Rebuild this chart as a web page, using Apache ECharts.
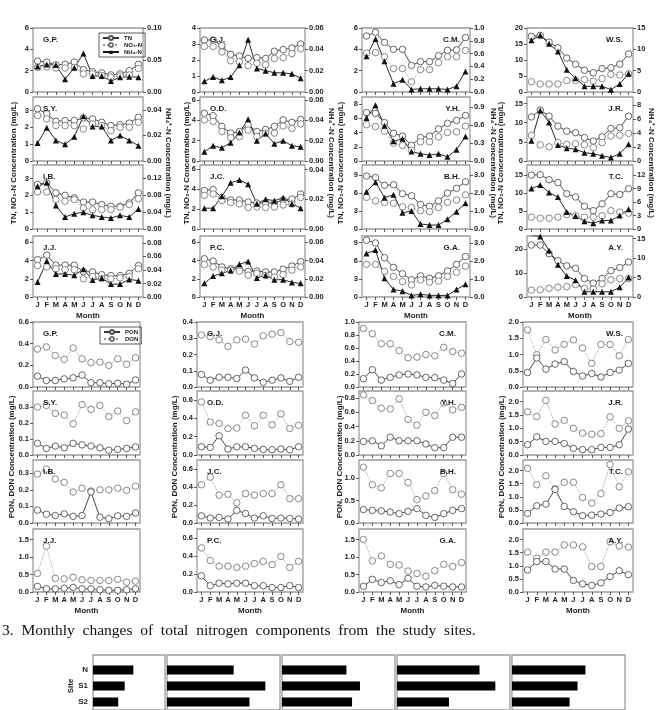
<!DOCTYPE html>
<html>
<head>
<meta charset="utf-8">
<script src="https://cdn.jsdelivr.net/npm/echarts@6/dist/echarts.min.js"></script>
<style>
html, body { margin: 0; padding: 0; background: #fff; }
#chart { width: 656px; height: 710px; }
</style>
</head>
<body>
<div id="chart"></div>
<script>
// month categories
const months = ['J', 'F', 'M', 'A', 'M', 'J', 'J', 'A', 'S', 'O', 'N', 'D'];

// ---- TN, NO3-N (mg/L, left axis) and NH4-N (mg/L, right axis) ----
const gpTN  = [2.9, 2.8, 2.55, 2.6, 2.8, 2.1, 1.9, 1.8, 1.6, 1.7, 2.0, 2.6];
const gpNO3 = [2.3, 2.35, 2.25, 2.25, 2.3, 1.7, 1.7, 1.55, 1.4, 1.5, 1.6, 2.2];
const gpNH4 = [0.040, 0.043, 0.042, 0.020, 0.038, 0.060, 0.025, 0.025, 0.017, 0.023, 0.024, 0.023];
const syTN  = [3.1, 2.8, 2.35, 2.4, 2.4, 2.55, 2.5, 2.3, 2.1, 2.15, 2.25, 2.6];
const syNO3 = [2.7, 2.5, 2.1, 2.1, 2.1, 1.9, 2.2, 2.1, 1.8, 2.0, 2.0, 2.3];
const syNH4 = [0.014, 0.026, 0.016, 0.013, 0.019, 0.035, 0.027, 0.027, 0.016, 0.020, 0.016, 0.012];
const ibTN  = [2.65, 2.75, 2.15, 2.0, 1.85, 1.6, 1.6, 1.45, 1.35, 1.35, 1.55, 2.15];
const ibNO3 = [2.2, 2.2, 1.75, 1.65, 1.75, 1.25, 1.15, 1.15, 1.15, 1.3, 1.45, 1.8];
const ibNH4 = [0.100, 0.109, 0.055, 0.028, 0.036, 0.039, 0.032, 0.028, 0.026, 0.032, 0.028, 0.047];
const jjTN  = [4.1, 4.6, 3.5, 3.5, 3.5, 2.8, 2.75, 2.45, 2.35, 2.35, 2.6, 3.45];
const jjNO3 = [3.45, 3.3, 3.1, 3.0, 3.0, 2.0, 2.25, 2.0, 2.0, 2.1, 2.25, 3.1];
const jjNH4 = [0.022, 0.053, 0.034, 0.034, 0.032, 0.041, 0.025, 0.028, 0.019, 0.019, 0.026, 0.024];
const gjTN  = [3.25, 3.25, 2.9, 2.35, 2.25, 2.1, 2.15, 2.1, 2.55, 2.65, 2.75, 3.0];
const gjNO3 = [2.85, 2.85, 2.5, 1.95, 1.9, 1.65, 1.8, 1.7, 2.1, 2.15, 2.4, 2.7];
const gjNH4 = [0.010, 0.014, 0.011, 0.014, 0.025, 0.049, 0.022, 0.020, 0.018, 0.018, 0.017, 0.013];
const odTN  = [4.7, 4.45, 3.4, 2.75, 2.9, 3.55, 2.9, 3.1, 3.4, 4.05, 3.8, 4.1];
const odNO3 = [4.05, 3.9, 2.9, 2.3, 2.4, 3.05, 2.4, 2.75, 2.75, 3.45, 3.2, 3.65];
const odNH4 = [0.009, 0.015, 0.013, 0.018, 0.028, 0.041, 0.020, 0.027, 0.017, 0.020, 0.015, 0.014];
const jcTN  = [3.85, 3.95, 3.15, 2.9, 2.9, 2.7, 2.6, 2.6, 2.6, 2.9, 3.0, 3.5];
const jcNO3 = [3.35, 3.5, 2.85, 2.65, 2.5, 2.15, 2.2, 2.15, 2.2, 2.4, 2.5, 3.15];
const jcNH4 = [0.014, 0.014, 0.022, 0.031, 0.033, 0.030, 0.017, 0.020, 0.019, 0.021, 0.017, 0.014];
const pcTN  = [4.2, 3.95, 3.3, 3.1, 3.1, 2.8, 2.85, 2.75, 2.75, 3.05, 3.4, 3.9];
const pcNO3 = [3.55, 3.3, 2.95, 2.95, 2.85, 2.4, 2.6, 2.35, 2.2, 2.45, 2.95, 3.3];
const pcNH4 = [0.015, 0.023, 0.026, 0.029, 0.036, 0.039, 0.021, 0.024, 0.019, 0.019, 0.016, 0.015];
const cmTN  = [5.25, 5.6, 4.65, 4.0, 4.0, 2.5, 2.85, 2.85, 3.4, 3.9, 3.95, 5.1];
const cmNO3 = [3.65, 3.7, 3.3, 2.2, 2.2, 0.95, 2.1, 2.1, 2.75, 3.3, 3.3, 3.9];
const cmNH4 = [0.56, 0.83, 0.48, 0.13, 0.19, 0.04, 0.05, 0.05, 0.05, 0.04, 0.09, 0.32];
const yhTN  = [6.8, 6.7, 5.4, 3.9, 3.5, 2.2, 3.3, 3.5, 4.5, 5.3, 5.7, 6.4];
const yhNO3 = [5.1, 4.85, 4.2, 2.5, 2.2, 1.5, 2.7, 2.7, 3.4, 4.0, 4.1, 4.9];
const yhNH4 = [0.72, 0.93, 0.59, 0.33, 0.37, 0.16, 0.12, 0.10, 0.12, 0.07, 0.19, 0.41];
const bhTN  = [8.85, 8.6, 7.3, 7.4, 5.9, 5.55, 4.1, 3.8, 4.7, 6.0, 6.8, 7.9];
const bhNO3 = [5.3, 4.7, 4.45, 4.3, 3.7, 3.6, 3.05, 2.9, 3.6, 4.45, 4.85, 5.7];
const bhNH4 = [2.07, 2.6, 1.74, 1.9, 0.9, 1.0, 0.28, 0.22, 0.22, 0.54, 0.96, 1.43];
const gaTN  = [9.4, 8.95, 6.5, 4.9, 3.85, 2.85, 3.5, 3.1, 3.5, 4.3, 5.4, 6.7];
const gaNO3 = [5.4, 5.4, 4.25, 3.4, 2.55, 2.0, 2.85, 2.45, 2.65, 3.4, 4.1, 5.1];
const gaNH4 = [2.41, 2.6, 1.04, 0.42, 0.32, 0.09, 0.15, 0.09, 0.09, 0.09, 0.42, 0.7];
const wsTN  = [17.4, 17.7, 15.6, 13.8, 10.6, 8.7, 6.8, 6.0, 7.3, 7.6, 8.7, 11.9];
const wsNO3 = [3.2, 2.5, 2.5, 2.5, 3.6, 3.6, 3.9, 3.4, 4.2, 5.5, 5.3, 5.7];
const wsNH4 = [12.1, 13.3, 11.3, 9.5, 5.2, 3.2, 1.35, 1.35, 1.35, 0.55, 1.9, 4.3];
const jrTN  = [11.5, 13.3, 11.7, 9.1, 7.8, 7.4, 6.1, 5.2, 6.3, 8.5, 8.7, 11.7];
const jrNO3 = [6.7, 4.2, 3.7, 4.8, 4.35, 4.5, 4.2, 3.5, 4.8, 6.5, 6.7, 7.2];
const jrNH4 = [2.9, 7.25, 5.55, 2.3, 1.85, 1.7, 1.2, 1.05, 0.75, 0.5, 1.05, 2.4];
const tcTN  = [15.0, 15.1, 13.7, 12.9, 9.8, 8.9, 6.3, 5.1, 7.0, 9.8, 9.6, 11.2];
const tcNO3 = [3.3, 3.0, 3.0, 3.3, 4.0, 3.7, 3.3, 3.3, 3.7, 5.1, 4.7, 4.4];
const tcNH4 = [9.0, 9.8, 8.1, 7.1, 3.8, 2.9, 1.7, 1.3, 1.9, 1.9, 3.0, 4.4];
const ayTN  = [21.7, 21.7, 18.1, 15.2, 13.0, 12.0, 7.7, 5.8, 7.7, 11.0, 12.3, 14.6];
const ayNO3 = [2.9, 3.0, 3.6, 4.1, 4.3, 5.2, 3.6, 3.3, 5.5, 7.2, 7.7, 7.7];
const ayNH4 = [15.9, 15.6, 11.9, 8.3, 5.4, 4.3, 1.35, 1.35, 1.35, 1.35, 2.5, 5.0];

// ---- PON, DON (mg/L) ----
const gpPON = [0.10, 0.06, 0.06, 0.075, 0.085, 0.11, 0.04, 0.04, 0.03, 0.035, 0.025, 0.065];
const gpDON = [0.35, 0.37, 0.29, 0.255, 0.36, 0.26, 0.225, 0.23, 0.20, 0.26, 0.21, 0.27];
const syPON = [0.073, 0.041, 0.056, 0.045, 0.073, 0.063, 0.056, 0.045, 0.030, 0.035, 0.041, 0.05];
const syDON = [0.30, 0.31, 0.26, 0.25, 0.195, 0.315, 0.285, 0.31, 0.24, 0.275, 0.215, 0.27];
const ibPON = [0.078, 0.053, 0.045, 0.055, 0.04, 0.045, 0.187, 0.035, 0.026, 0.043, 0.04, 0.06];
const ibDON = [0.295, 0.325, 0.265, 0.245, 0.187, 0.21, 0.193, 0.20, 0.20, 0.21, 0.197, 0.222];
const jjPON = [0.16, 0.09, 0.09, 0.11, 0.13, 0.09, 0.09, 0.065, 0.05, 0.05, 0.065, 0.09];
const jjDON = [0.53, 1.31, 0.39, 0.375, 0.42, 0.35, 0.33, 0.33, 0.33, 0.36, 0.28, 0.31];
const gjPON = [0.077, 0.042, 0.06, 0.06, 0.052, 0.104, 0.056, 0.029, 0.042, 0.056, 0.035, 0.06];
const gjDON = [0.32, 0.31, 0.29, 0.25, 0.29, 0.295, 0.265, 0.315, 0.325, 0.335, 0.28, 0.275];
const odPON = [0.09, 0.083, 0.21, 0.065, 0.09, 0.09, 0.072, 0.061, 0.058, 0.065, 0.058, 0.09];
const odDON = [0.58, 0.36, 0.345, 0.29, 0.295, 0.435, 0.32, 0.435, 0.33, 0.45, 0.29, 0.325];
const jcPON = [0.08, 0.055, 0.062, 0.044, 0.14, 0.105, 0.055, 0.08, 0.051, 0.055, 0.051, 0.044];
const jcDON = [0.425, 0.51, 0.31, 0.32, 0.225, 0.327, 0.31, 0.327, 0.327, 0.425, 0.27, 0.27];
const pcPON = [0.18, 0.07, 0.098, 0.09, 0.098, 0.098, 0.07, 0.07, 0.05, 0.05, 0.07, 0.05];
const pcDON = [0.49, 0.35, 0.287, 0.287, 0.273, 0.287, 0.316, 0.34, 0.305, 0.396, 0.273, 0.34];
const cmPON = [0.128, 0.265, 0.106, 0.149, 0.186, 0.20, 0.186, 0.149, 0.144, 0.106, 0.053, 0.20];
const cmDON = [0.9, 0.82, 0.665, 0.665, 0.56, 0.45, 0.46, 0.50, 0.48, 0.61, 0.545, 0.52];
const yhPON = [0.19, 0.2, 0.13, 0.25, 0.2, 0.2, 0.2, 0.155, 0.103, 0.103, 0.25, 0.25];
const yhDON = [0.845, 0.765, 0.657, 0.648, 0.79, 0.5, 0.42, 0.6, 0.555, 0.73, 0.634, 0.67];
const bhPON = [0.3, 0.28, 0.27, 0.245, 0.207, 0.26, 0.32, 0.17, 0.126, 0.207, 0.28, 0.32];
const bhDON = [1.24, 0.85, 0.78, 1.1, 1.1, 0.9, 0.52, 0.6, 0.72, 1.1, 0.74, 0.64];
const gaPON = [0.165, 0.36, 0.27, 0.32, 0.21, 0.39, 0.165, 0.145, 0.19, 0.165, 0.145, 0.145];
const gaDON = [1.5, 0.89, 1.03, 0.79, 0.77, 0.6, 0.53, 0.45, 0.61, 0.79, 0.73, 0.84];
const wsPON = [0.445, 0.89, 0.55, 0.705, 0.78, 0.477, 0.34, 0.415, 0.31, 0.445, 0.52, 0.725];
const wsDON = [1.76, 0.99, 1.46, 1.14, 1.31, 1.45, 1.2, 0.725, 1.31, 1.31, 0.96, 1.46];
const jrPON = [0.385, 0.68, 0.51, 0.51, 0.43, 0.25, 0.2, 0.2, 0.285, 0.285, 0.385, 0.97];
const jrDON = [1.62, 1.44, 2.05, 1.16, 1.3, 1.0, 0.82, 0.78, 0.8, 1.43, 1.0, 1.28];
const tcPON = [0.365, 0.655, 0.72, 1.28, 0.63, 0.43, 0.28, 0.3, 0.34, 0.4, 0.57, 0.62];
const tcDON = [2.08, 1.46, 1.8, 1.3, 1.55, 1.55, 0.97, 0.76, 1.12, 2.23, 1.38, 1.95];
const ayPON = [0.84, 1.16, 1.16, 0.875, 0.875, 0.44, 0.31, 0.25, 0.35, 0.59, 0.81, 0.66];
const ayDON = [1.52, 1.29, 1.52, 1.52, 1.79, 1.79, 1.72, 0.97, 0.97, 1.91, 1.75, 1.71];

// ---- next figure (cut at the bottom of the page) ----
const stripSites = ['N', 'S1', 'S2'];
const strip1 = [56, 44, 35];
const strip2 = [59, 87, 73];
const strip3 = [57, 69, 62];
const strip4 = [73, 87, 46];
const strip5 = [65, 58, 51];

// panels: site, data, axis range (max / step / decimals)
const topPanels = [
  { site: 'G.P.', tn: gpTN, no3: gpNO3, nh4: gpNH4, lMax: 6, lStep: 2, rMax: 0.10, rStep: 0.05, rDec: 2 },
  { site: 'S.Y.', tn: syTN, no3: syNO3, nh4: syNH4, lMax: 3.8, lStep: 1, rMax: 0.05, rStep: 0.02, rDec: 2 },
  { site: 'I.B.', tn: ibTN, no3: ibNO3, nh4: ibNH4, lMax: 3.8, lStep: 1, rMax: 0.15, rStep: 0.04, rDec: 2 },
  { site: 'J.J.', tn: jjTN, no3: jjNO3, nh4: jjNH4, lMax: 6.7, lStep: 2, rMax: 0.09, rStep: 0.02, rDec: 2 },
  { site: 'G.J.', tn: gjTN, no3: gjNO3, nh4: gjNH4, lMax: 4, lStep: 1, rMax: 0.06, rStep: 0.02, rDec: 2 },
  { site: 'O.D.', tn: odTN, no3: odNO3, nh4: odNH4, lMax: 6.3, lStep: 2, rMax: 0.063, rStep: 0.02, rDec: 2 },
  { site: 'J.C.', tn: jcTN, no3: jcNO3, nh4: jcNH4, lMax: 6.4, lStep: 2, rMax: 0.043, rStep: 0.02, rDec: 2 },
  { site: 'P.C.', tn: pcTN, no3: pcNO3, nh4: pcNH4, lMax: 6.7, lStep: 2, rMax: 0.067, rStep: 0.02, rDec: 2 },
  { site: 'C.M.', tn: cmTN, no3: cmNO3, nh4: cmNH4, lMax: 6, lStep: 2, rMax: 1.0, rStep: 0.2, rDec: 1 },
  { site: 'Y.H.', tn: yhTN, no3: yhNO3, nh4: yhNH4, lMax: 9, lStep: 2, rMax: 1.07, rStep: 0.3, rDec: 1 },
  { site: 'B.H.', tn: bhTN, no3: bhNO3, nh4: bhNH4, lMax: 10.7, lStep: 3, rMax: 3.55, rStep: 1, rDec: 1 },
  { site: 'G.A.', tn: gaTN, no3: gaNO3, nh4: gaNH4, lMax: 10.1, lStep: 3, rMax: 3.38, rStep: 1, rDec: 1 },
  { site: 'W.S.', tn: wsTN, no3: wsNO3, nh4: wsNH4, lMax: 20, lStep: 5, rMax: 15, rStep: 5, rDec: 0 },
  { site: 'J.R.', tn: jrTN, no3: jrNO3, nh4: jrNH4, lMax: 16.7, lStep: 5, rMax: 9.2, rStep: 2, rDec: 0 },
  { site: 'T.C.', tn: tcTN, no3: tcNO3, nh4: tcNH4, lMax: 17.8, lStep: 5, rMax: 14.25, rStep: 3, rDec: 0 },
  { site: 'A.Y.', tn: ayTN, no3: ayNO3, nh4: ayNH4, lMax: 25.5, lStep: 10, rMax: 15.7, rStep: 5, rDec: 0 }
];
const botPanels = [
  { site: 'G.P.', pon: gpPON, don: gpDON, max: 0.6, step: 0.2 },
  { site: 'S.Y.', pon: syPON, don: syDON, max: 0.4, step: 0.1, hideTop: true },
  { site: 'I.B.', pon: ibPON, don: ibDON, max: 0.38, step: 0.1 },
  { site: 'J.J.', pon: jjPON, don: jjDON, max: 1.8, step: 0.5 },
  { site: 'G.J.', pon: gjPON, don: gjDON, max: 0.4, step: 0.1 },
  { site: 'O.D.', pon: odPON, don: odDON, max: 0.7, step: 0.2 },
  { site: 'J.C.', pon: jcPON, don: jcDON, max: 0.7, step: 0.2 },
  { site: 'P.C.', pon: pcPON, don: pcDON, max: 0.7, step: 0.2 },
  { site: 'C.M.', pon: cmPON, don: cmDON, max: 1.0, step: 0.2 },
  { site: 'Y.H.', pon: yhPON, don: yhDON, max: 0.9, step: 0.2 },
  { site: 'B.H.', pon: bhPON, don: bhDON, max: 1.4, step: 0.5 },
  { site: 'G.A.', pon: gaPON, don: gaDON, max: 1.8, step: 0.5 },
  { site: 'W.S.', pon: wsPON, don: wsDON, max: 2.0, step: 0.5 },
  { site: 'J.R.', pon: jrPON, don: jrDON, max: 2.4, step: 0.5 },
  { site: 'T.C.', pon: tcPON, don: tcDON, max: 2.4, step: 0.5 },
  { site: 'A.Y.', pon: ayPON, don: ayDON, max: 2.4, step: 0.5 }
];
const stripPanels = [strip1, strip2, strip3, strip4, strip5];

// layout (pixels)
const topCols = [[33, 143], [200, 305], [362, 470], [527, 633]];
const topRows = [[28, 92], [97, 161], [165, 229], [236, 297]];
const botCols = [[33, 140], [197, 303], [359, 466], [523, 633]];
const botRows = [[322, 387], [391, 455], [460, 523], [529, 592]];
const stripCols = [[93, 165], [167, 280], [282, 395], [397, 510], [512, 625]];

const FONT = 'Liberation Sans';
const INK = '#1e1e1e';

const grids = [], xAxes = [], yAxes = [], series = [], titles = [], graphics = [];

function ticksOf(max, step) {
  const t = [];
  for (let v = 0; v <= max + 1e-9; v += step) t.push(+v.toFixed(4));
  return t;
}

function addGrid(x0, x1, y0, y1, show) {
  grids.push({
    left: x0, top: y0, width: x1 - x0, height: y1 - y0,
    show: show, borderColor: '#9c9c9c', borderWidth: 1.3
  });
  return grids.length - 1;
}

function valueAxis(gi, max, step, dec, pos, ticks) {
  const t = ticks || ticksOf(max, step);
  return {
    gridIndex: gi, type: 'value', position: pos, min: 0, max: max,
    axisLine: { show: false }, splitLine: { show: false },
    axisTick: { show: true, length: 3, customValues: t, lineStyle: { color: '#333', width: 0.8 } },
    axisLabel: {
      customValues: t, formatter: v => v.toFixed(dec),
      fontSize: 7.5, fontWeight: 'bold', color: INK, fontFamily: FONT, margin: 4
    }
  };
}

function monthAxis(gi, last) {
  return {
    gridIndex: gi, type: 'category', data: months, boundaryGap: true,
    axisLine: { show: false }, splitLine: { show: false },
    axisTick: { show: true, alignWithLabel: true, interval: 0, length: 3, lineStyle: { color: '#333', width: 0.8 } },
    axisLabel: { show: last, interval: 0, fontSize: 7.5, fontWeight: 'bold', color: INK, fontFamily: FONT, margin: 4 },
    name: last ? 'Month' : '', nameLocation: 'middle', nameGap: 15,
    nameTextStyle: { fontSize: 8, fontWeight: 'bold', color: INK, fontFamily: FONT }
  };
}

function lineSeries(name, gi, yi, data, kind) {
  const s = {
    type: 'line', name: name, xAxisIndex: gi, yAxisIndex: yi, data: data,
    symbol: 'circle', symbolSize: 6.5, showSymbol: true, showAllSymbol: true,
    lineStyle: { color: '#333', width: 0.9 },
    itemStyle: { color: '#fff', borderColor: '#555', borderWidth: 0.9 }
  };
  if (kind === 'dot') {
    s.lineStyle = { color: '#9a9a9a', width: 0.9, type: 'dotted' };
    s.itemStyle = { color: '#fff', borderColor: '#7a7a7a', borderWidth: 0.9 };
  }
  if (kind === 'tri') {
    s.symbol = 'triangle';
    s.symbolSize = 6;
    s.lineStyle = { color: '#111', width: 0.9 };
    s.itemStyle = { color: '#111' };
    s.z = 3;
  }
  return s;
}

function siteLabel(text, col, y0, x0, x1) {
  const t = { text: text, top: y0 + 3, textStyle: { fontSize: 8, fontWeight: 'bold', color: INK, fontFamily: FONT } };
  if (col < 2) t.left = x0 + 5; else t.right = 656 - x1 + 5;
  titles.push(t);
}

// upper block
topPanels.forEach((p, k) => {
  const col = Math.floor(k / 4), row = k % 4;
  const [x0, x1] = topCols[col], [y0, y1] = topRows[row];
  const gi = addGrid(x0, x1, y0, y1, true);
  xAxes.push(monthAxis(gi, row === 3));
  const yl = yAxes.length;
  yAxes.push(valueAxis(gi, p.lMax, p.lStep, 0, 'left'));
  yAxes.push(valueAxis(gi, p.rMax, p.rStep, p.rDec, 'right'));
  series.push(lineSeries('TN', gi, yl, p.tn, 'solid'));
  series.push(lineSeries('NO\u2083-N', gi, yl, p.no3, 'dot'));
  series.push(lineSeries('NH\u2084-N', gi, yl + 1, p.nh4, 'tri'));
  siteLabel(p.site, col, y0, x0, x1);
});

// lower block
botPanels.forEach((p, k) => {
  const col = Math.floor(k / 4), row = k % 4;
  const [x0, x1] = botCols[col], [y0, y1] = botRows[row];
  const gi = addGrid(x0, x1, y0, y1, true);
  xAxes.push(monthAxis(gi, row === 3));
  const yi = yAxes.length;
  let ticks = ticksOf(p.max, p.step);
  if (p.hideTop) ticks = ticks.slice(0, -1);
  yAxes.push(valueAxis(gi, p.max, p.step, 1, 'left', ticks));
  series.push(lineSeries('DON', gi, yi, p.don, 'dot'));
  series.push(lineSeries('PON', gi, yi, p.pon, 'solid'));
  siteLabel(p.site, col, y0, x0, x1);
});

// strip of the following figure
stripPanels.forEach((vals, k) => {
  const [x0, x1] = stripCols[k];
  const fi = addGrid(x0, x1, 655, 730, true);
  xAxes.push({ gridIndex: fi, type: 'value', show: false, min: 0, max: 1 });
  yAxes.push({ gridIndex: fi, type: 'value', show: false, min: 0, max: 1 });
  const gi = addGrid(x0, x1, 662, 710, false);
  xAxes.push({ gridIndex: gi, type: 'value', min: 0, max: 100, show: false });
  const yi = yAxes.length;
  yAxes.push({
    gridIndex: gi, type: 'category', data: stripSites, inverse: true,
    axisLine: { show: false }, axisTick: { show: false },
    axisLabel: { show: k === 0, fontSize: 8, fontWeight: 'bold', color: INK, fontFamily: FONT, margin: 5 },
    name: k === 0 ? 'Site' : '', nameLocation: 'middle', nameGap: 17, nameRotate: 90,
    nameTextStyle: { fontSize: 8, fontWeight: 'bold', color: INK, fontFamily: FONT }
  });
  series.push({
    type: 'bar', xAxisIndex: xAxes.length - 1, yAxisIndex: yi, data: vals,
    barWidth: 9, itemStyle: { color: '#000' }
  });
});

// rotated axis titles
const lblFont = 'bold 8px "Liberation Sans"';
function vText(text, x, y, rot) {
  graphics.push({
    type: 'text', x: x, y: y, rotation: rot,
    style: { text: text, font: lblFont, fill: INK, align: 'center', verticalAlign: 'middle' }
  });
}
[14, 187, 341, 501].forEach(x => vText('TN, NO\u2083-N Concentration (mg/L)', x, 163, Math.PI / 2));
[168, 331, 493, 651].forEach(x => vText('NH\u2084\u207A-N Concentration (mg/L)', x, 163, -Math.PI / 2));
[12, 175, 340, 502].forEach(x => vText('PON, DON Concentration (mg/L)', x, 457, Math.PI / 2));

graphics.push({
  type: 'text', left: 2, top: 623,
  style: {
    text: '3.  Monthly  changes  of  total  nitrogen  components  from  the  study  sites.',
    font: '15.5px "Liberation Serif"', fill: '#111'
  }
});

const legendText = { fontSize: 6, fontWeight: 'bold', color: INK, fontFamily: FONT };

const option = {
  animation: false,
  backgroundColor: '#fff',
  title: titles,
  legend: [
    {
      data: ['TN', 'NO\u2083-N', 'NH\u2084-N'], left: 99, top: 33, orient: 'vertical',
      itemWidth: 16, itemHeight: 5, itemGap: 1, padding: [2, 3, 2, 3],
      borderColor: '#333', borderWidth: 0.8, selectedMode: false, textStyle: legendText
    },
    {
      data: ['PON', 'DON'], left: 100, top: 327, orient: 'vertical',
      itemWidth: 16, itemHeight: 5, itemGap: 1, padding: [2, 3, 2, 3],
      borderColor: '#333', borderWidth: 0.8, selectedMode: false, textStyle: legendText
    }
  ],
  grid: grids,
  xAxis: xAxes,
  yAxis: yAxes,
  series: series,
  graphic: graphics
};

const myChart = echarts.init(document.getElementById('chart'));
myChart.setOption(option);
</script>
</body>
</html>
